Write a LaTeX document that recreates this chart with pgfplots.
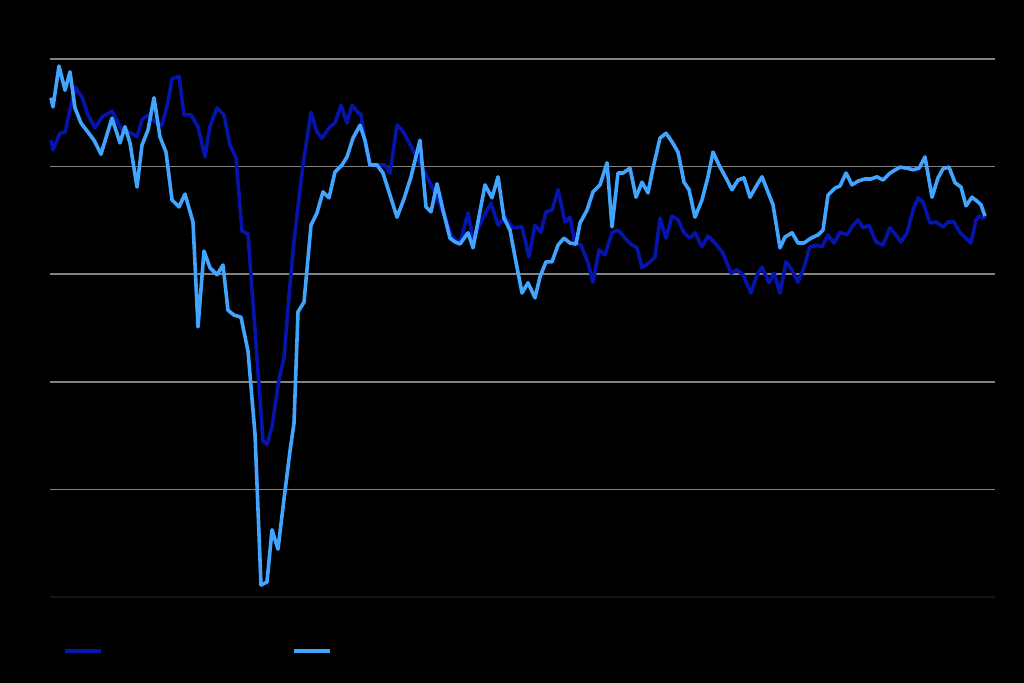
\documentclass[border=0pt]{standalone}
\usepackage{pgfplots}
\usepackage{pgfplotstable}
\pgfplotsset{compat=1.18}

\definecolor{darkline}{RGB}{5,20,170}
\definecolor{lightline}{RGB}{65,165,255}
\definecolor{gridgray}{RGB}{130,130,130}

% dark blue series
\pgfplotstableread{
x y
51 84.9
53 83.1
60 86.2
65 86.4
70 90.5
75 94.8
82 92.9
88 89.6
95 87.2
102 89.2
112 90.3
122 86.8
132 86.2
137 85.5
142 88.7
148 89.6
155 88.3
162 87.7
168 92.0
172 96.3
179 96.8
184 89.6
191 89.6
198 87.4
205 81.8
210 87.5
217 90.9
224 89.6
230 84.0
236 81.6
242 68.0
248 67.5
255 49.6
260 36.8
263 29.0
267 28.4
272 31.6
279 40.5
284 44.4
289 55.9
294 66.2
303 80.3
311 90.1
317 86.4
322 85.3
330 87.4
335 88.1
341 91.4
347 88.1
352 91.4
358 90.1
361 89.6
365 84.6
370 80.3
378 80.3
385 80.3
390 78.8
397 87.7
402 86.8
405 85.9
413 83.1
420 80.7
427 78.1
432 76.2
438 73.8
445 70.6
452 66.9
460 65.8
468 71.4
473 66.4
482 70.1
491 73.2
498 69.1
505 70.6
513 68.6
522 68.8
529 63.2
535 69.1
541 67.8
546 71.6
552 71.9
558 75.7
565 69.7
570 70.6
575 65.8
581 65.4
588 62.1
593 58.5
599 64.5
605 63.6
612 67.7
618 68.2
625 66.7
632 65.4
637 64.9
642 61.2
650 62.3
655 63.2
660 70.4
666 66.7
672 70.8
678 70.1
684 67.7
690 66.7
695 67.7
702 65.1
708 67.1
715 65.8
723 63.9
731 60.2
737 60.8
743 59.9
751 56.5
757 59.9
762 61.3
769 58.4
774 60.2
780 56.5
786 62.3
792 60.8
798 58.5
804 61.3
810 65.1
816 65.4
822 65.1
828 67.3
834 65.8
840 67.8
847 67.3
852 68.8
858 70.1
863 68.6
869 69.1
876 66.0
883 65.4
890 68.6
895 67.5
901 66.0
907 67.7
913 71.9
918 74.2
923 73.4
930 69.5
936 69.7
943 68.8
948 69.7
954 69.7
960 67.7
966 66.7
971 65.8
976 70.1
979 70.8
983 70.4
986 70.8
}\darkdata

% light blue series
\pgfplotstableread{
x y
51 92.8
53 91.1
59 98.7
65 94.2
70 97.6
75 90.9
81 88.1
88 86.4
94 84.9
101 82.3
112 89.0
120 84.4
125 87.4
130 84.4
137 76.2
142 84.0
148 86.8
154 92.8
160 85.5
166 82.7
172 73.8
179 72.5
185 74.9
193 69.7
198 50.2
204 64.3
210 61.2
217 59.9
223 61.7
228 53.3
234 52.4
241 52.0
248 45.7
255 30.3
261 2.2
267 2.8
272 12.5
278 8.9
284 18.2
290 27.1
294 32.3
298 53.0
304 54.8
311 69.1
317 71.4
323 75.3
329 74.2
335 79.0
342 80.3
347 81.8
353 85.3
360 87.7
365 84.9
370 80.3
377 80.3
383 78.8
390 74.7
397 70.6
404 74.0
411 78.1
420 84.9
426 72.5
431 71.6
437 76.8
443 71.9
450 66.7
455 66.0
460 65.6
468 67.7
473 64.9
485 76.6
492 74.2
498 78.1
504 70.4
510 68.2
515 63.2
522 56.5
528 58.4
535 55.6
540 59.5
546 62.3
552 62.3
558 65.4
564 66.7
570 65.8
576 65.6
580 69.5
587 71.9
593 75.3
600 76.6
607 80.7
612 68.8
618 78.8
623 78.8
630 79.7
636 74.3
642 77.1
648 75.1
653 79.7
660 85.3
666 86.2
672 84.6
678 82.7
684 77.1
689 75.7
695 70.6
702 73.8
708 78.1
713 82.7
720 79.9
726 77.9
732 75.7
738 77.5
744 77.9
750 74.3
757 76.6
762 78.1
773 72.9
780 64.9
785 66.9
792 67.7
798 65.8
804 65.8
811 66.7
818 67.3
823 68.2
828 74.7
835 76.0
840 76.4
846 78.8
852 76.6
858 77.3
865 77.7
871 77.7
877 78.1
883 77.5
890 78.8
900 79.9
907 79.7
913 79.4
919 79.7
925 81.8
932 74.3
938 77.9
943 79.6
949 79.9
955 77.0
961 76.2
966 72.7
972 74.3
977 73.6
981 72.9
985 70.8
}\lightdata

\begin{document}
\begin{tikzpicture}
\fill[black] (0,0) rectangle (204.8mm,136.6mm);
\useasboundingbox (0,0) rectangle (204.8mm,136.6mm);
\begin{axis}[
  at={(10mm,17.2mm)}, anchor=south west,
  scale only axis,
  width=189mm, height=107.6mm,
  xmin=50, xmax=995,
  ymin=0, ymax=100,
  axis line style={draw=none},
  xtick=\empty,
  ytick={20,40,60,80,100},
  yticklabels={},
  extra y ticks={0},
  extra y tick labels={},
  extra y tick style={grid style={color=black!92!white, line width=0.3mm}},
  tick style={draw=none},
  ymajorgrids=true,
  grid style={color=gridgray, line width=0.3mm},
  clip=false,
  legend columns=2,
  legend image code/.code={\draw[#1] (0mm,0mm) -- (7.2mm,0mm);},
  legend style={at={(rel axis cs:0.0085,-0.1)}, anchor=west, draw=none, fill=none,
    text=black, nodes={text width=36.4mm}},
]
\addplot[darkline, line width=0.72mm, line join=round] table[x=x, y=y] {\darkdata};
\addlegendentry{}
\addplot[lightline, line width=0.72mm, line join=round] table[x=x, y=y] {\lightdata};
\addlegendentry{}
\end{axis}
\end{tikzpicture}
\end{document}
